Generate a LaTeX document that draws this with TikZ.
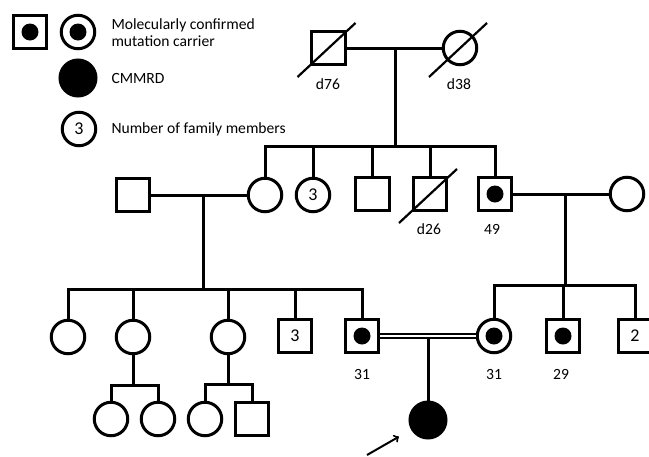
\documentclass[tikz,border=0pt]{standalone}
\usepackage{fontspec}
\setmainfont{Carlito}
\usepackage{tikz}

\begin{document}
\begin{tikzpicture}[x=1pt,y=-1pt,line width=3pt]
\tikzstyle{every node}=[inner sep=0pt,font=\fontsize{15.6}{17}\selectfont];
\tikzstyle{male}=[draw,shape=rectangle,minimum size=33.5pt];
\tikzstyle{female}=[draw,shape=circle,minimum size=33.5pt];
\tikzstyle{carrier}=[path picture={\fill (path picture bounding box.center) circle (8.5pt);}];
\tikzstyle{affected}=[fill=black,minimum size=36pt];
\tikzstyle{count}=[font=\fontsize{18}{18}\selectfont];
\tikzstyle{tag}=[anchor=west,align=left];
\useasboundingbox (0,0) rectangle (649,456);

% legend
\node[male,carrier] (keym) at (30,32) {};
\node[female,carrier] (keyf) at (78,32) {};
\node[tag] (keytxt1) at (110,33) {Molecularly confirmed\\mutation carrier};
\node[female,affected] (keya) at (78,78) {};
\node[tag] (keytxt2) at (110,78) {CMMRD};
\node[female,count] (keyn) at (79,129) {3};
\node[tag] (keytxt3) at (110,129) {Number of family members};

% generation I
\node[male] (gpa) at (328.5,48) {};
\node[female] (gma) at (460,48) {};
\node (gpaage) at (328,84) {d76};
\node (gmaage) at (459,84) {d38};
\coordinate (mid1) at (395,48);
\coordinate (sib2) at (395,146);
\draw (gpa) -- (gma);
\draw (mid1) -- (sib2);

% generation II
\node[male] (sp1) at (133,195) {};
\node[female] (c2a) at (265,195) {};
\node[female,count] (c2b) at (313,195) {3};
\node[male] (c2c) at (372.5,194) {};
\node[male] (c2d) at (430,194) {};
\node[male,carrier] (c2e) at (495,194) {};
\node[female] (sp2) at (627,194) {};
\node (c2dage) at (429,229) {d26};
\node (c2eage) at (492,229) {49};
\draw (c2a.north) |- (c2e.north |- sib2) -- (c2e.north);
\foreach \k in {c2b,c2c,c2d} \draw (\k.north) -- (\k.north |- sib2);
\foreach \p in {gpa,gma,c2d} \draw[line width=2.2pt] ([shift={(-31,29)}]\p.center) -- ([shift={(27,-25)}]\p.center);
\draw (sp1) -- (c2a);
\draw (c2e) -- (sp2);
\coordinate (mid2) at (203,195);
\coordinate (sib3a) at (203,289);
\coordinate (mid3) at (565,194);
\coordinate (sib3b) at (565,285);
\draw (mid2) -- (sib3a);
\draw (mid3) -- (sib3b);

% generation III
\node[female] (c3a) at (68,337) {};
\node[female] (c3b) at (133,337) {};
\node[female] (c3c) at (228,337) {};
\node[male,count] (c3d) at (295,336) {3};
\node[male,carrier] (c3e) at (362,336) {};
\node[female,carrier] (c3f) at (494,336) {};
\node[male,carrier] (c3g) at (563,336) {};
\node[male,count] (c3h) at (635,336) {2};
\node (c3eage) at (362,374) {31};
\node (c3fage) at (494,374) {31};
\node (c3gage) at (561,374) {29};
\draw (c3a.north) |- (c3e.north |- sib3a) -- (c3e.north);
\foreach \k in {c3b,c3c,c3d} \draw (\k.north) -- (\k.north |- sib3a);
\draw (c3f.north) |- (c3h.north |- sib3b) -- (c3h.north);
\draw (c3g.north) -- (c3g.north |- sib3b);
\draw[double,double distance=2.5pt,line width=2pt] (c3e) -- (c3f);

% generation IV
\node[female] (c4a) at (111,419) {};
\node[female] (c4b) at (158,419) {};
\node[female] (c4c) at (205,419) {};
\node[male] (c4d) at (252,419) {};
\node[female,affected] (pro) at (428,420) {};
\coordinate (sib4a) at (133,385);
\coordinate (sib4b) at (228,384);
\coordinate (mid4) at (428,338.5);
\draw (c3b.south) -- (sib4a);
\draw (c3c.south) -- (sib4b);
\draw (c4a.north) |- (c4b.north |- sib4a) -- (c4b.north);
\draw (c4c.north) |- (c4d.north |- sib4b) -- (c4d.north);
\draw (mid4) -- (pro);
\coordinate (arrtail) at (367,455);
\draw[->,line width=2pt,shorten >=14pt] (arrtail) -- (pro);
\end{tikzpicture}
\end{document}
